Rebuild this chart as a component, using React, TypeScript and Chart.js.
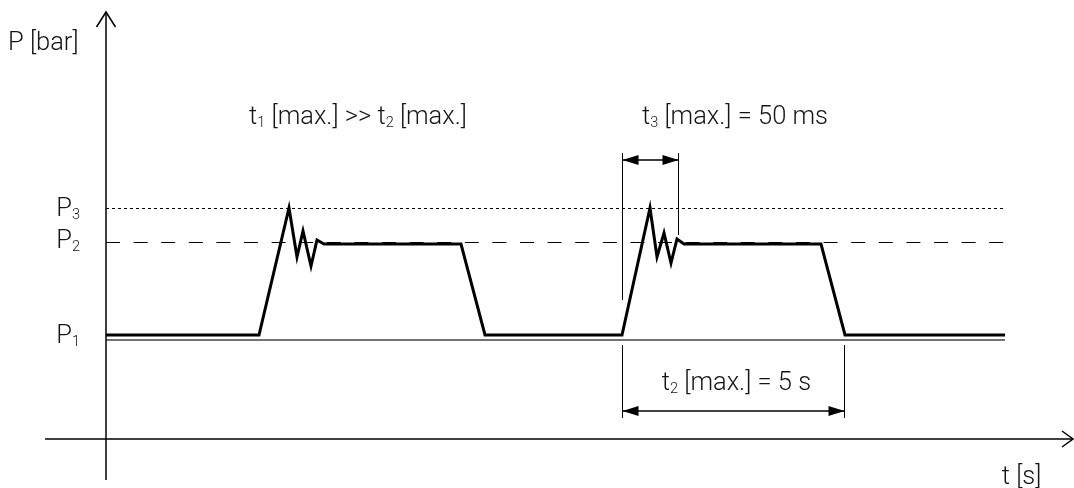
import React, { useEffect, useRef } from "react";
import { Chart, registerables } from "chart.js";

Chart.register(...registerables);

// Schematic units: time t (arbitrary), pressure P (arbitrary)
const T_MIN = -10.6;
const T_MAX = 96.8;
const P_MIN = -4.9;
const P_MAX = 43.9;

// Pressure signal (two pulses with overshoot)
const signalT = [0, 15.3, 18.3, 19.1, 19.7, 20.5, 21.1, 21.8, 35.5, 37.9, 51.6, 54.4, 55.1, 55.8, 56.5, 57.1, 57.8, 71.5, 73.9, 89.9];
const signalP = [10.4, 10.4, 23.1, 18.2, 20.8, 17.3, 19.9, 19.5, 19.5, 10.4, 10.4, 23.1, 18.2, 20.6, 17.6, 20.0, 19.5, 19.5, 10.4, 10.4];

// Reference pressure levels
const levelNames = ["P1", "P2", "P3"];
const levelValues = [9.9, 19.65, 23.05];
const levelStart = 0;
const levelEnd = 89.9;

// Axes
const yAxisT = [0, 0];
const yAxisP = [-4.1, 42.7];
const xAxisT = [-6.1, 96.7];
const xAxisP = [0, 0];
const yArrowT = [-0.95, 0, 0.95];
const yArrowP = [41.2, 42.7, 41.2];
const xArrowT = [95.6, 96.7, 95.6];
const xArrowP = [0.8, 0, -0.8];

// Dimension t3 (50 ms)
const t3Ext = [51.65, 57.25];
const t3ExtTop = 28.6;
const t3ExtBottom = [13.9, 20.4];
const t3ArrowP = 27.9;

// Dimension t2 (5 s)
const t2Ext = [51.65, 73.85];
const t2ExtTop = 9.4;
const t2ExtBottom = 2.1;
const t2ArrowP = 2.8;

// Labels: runs of [text, subscript?], anchored at (t, P) on the baseline
type Run = [string, boolean];
const labels: { runs: Run[]; t: number; p: number; align: "left" | "right" | "center" }[] = [
  { runs: [["P [bar]", false]], t: -9.8, p: 38.9, align: "left" },
  { runs: [["t", false], ["1", true], [" [max.] >> t", false], ["2", true], [" [max.]", false]], t: 25.2, p: 31.55, align: "center" },
  { runs: [["t", false], ["3", true], [" [max.] = 50 ms", false]], t: 62.9, p: 31.55, align: "center" },
  { runs: [["t", false], ["2", true], [" [max.] = 5 s", false]], t: 63.05, p: 4.9, align: "center" },
  { runs: [["t [s]", false]], t: 91.55, p: -4.45, align: "center" },
  { runs: [["P", false], ["3", true]], t: -2.6, p: 22.3, align: "right" },
  { runs: [["P", false], ["2", true]], t: -2.6, p: 19.07, align: "right" },
  { runs: [["P", false], ["1", true]], t: -2.6, p: 9.57, align: "right" },
];

const FONT_SIZE = 25.5;
const SUB_SIZE = 14.5;
const FONT_FAMILY = "Roboto";
const TEXT_COLOR = "#151515";

const pts = (ts: number[], ps: number[]) => ts.map((t, i) => ({ x: t, y: ps[i] }));

const line = (data: { x: number; y: number }[], width: number, color = "#000", dash: number[] = []) => ({
  type: "line" as const,
  data,
  borderColor: color,
  borderWidth: width,
  borderDash: dash,
  pointRadius: 0,
  fill: false,
  tension: 0,
  clip: false as any,
  borderJoinStyle: "miter" as const,
  borderCapStyle: "butt" as const,
});

const annotationPlugin = {
  id: "schematicAnnotations",
  afterDatasetsDraw(chart: any) {
    const ctx: CanvasRenderingContext2D = chart.ctx;
    const xs = chart.scales.x;
    const ys = chart.scales.y;
    const X = (v: number) => xs.getPixelForValue(v);
    const Y = (v: number) => ys.getPixelForValue(v);

    // filled arrowheads for dimension arrows
    const head = (tipT: number, p: number, dir: number) => {
      const tx = X(tipT);
      const ty = Y(p);
      const len = 16;
      const hw = 5;
      ctx.beginPath();
      ctx.moveTo(tx, ty);
      ctx.lineTo(tx + dir * len, ty - hw);
      ctx.lineTo(tx + dir * len, ty + hw);
      ctx.closePath();
      ctx.fillStyle = "#000";
      ctx.fill();
    };
    ctx.save();
    head(t3Ext[0], t3ArrowP, 1);
    head(t3Ext[1], t3ArrowP, -1);
    head(t2Ext[0], t2ArrowP, 1);
    head(t2Ext[1], t2ArrowP, -1);

    // labels
    ctx.fillStyle = TEXT_COLOR;
    ctx.textBaseline = "alphabetic";
    ctx.textAlign = "left";
    const mainFont = `300 ${FONT_SIZE}px ${FONT_FAMILY}`;
    const subFont = `300 ${SUB_SIZE}px ${FONT_FAMILY}`;
    for (const lab of labels) {
      let width = 0;
      for (const [txt, sub] of lab.runs) {
        ctx.font = sub ? subFont : mainFont;
        width += ctx.measureText(txt).width;
      }
      let x = X(lab.t);
      if (lab.align === "right") x -= width;
      else if (lab.align === "center") x -= width / 2;
      const y = Y(lab.p);
      for (const [txt, sub] of lab.runs) {
        ctx.font = sub ? subFont : mainFont;
        ctx.fillText(txt, x, sub ? y + 3 : y);
        x += ctx.measureText(txt).width;
      }
    }
    ctx.restore();
  },
};

export default function App() {
  const canvasRef = useRef<HTMLCanvasElement | null>(null);

  useEffect(() => {
    if (!canvasRef.current) return;
    const datasets: any[] = [];

    // axes
    datasets.push(line(pts(yAxisT, yAxisP), 1.5));
    datasets.push(line(pts(xAxisT, xAxisP), 1.5));
    datasets.push(line(pts(yArrowT, yArrowP), 1.5));
    datasets.push(line(pts(xArrowT, xArrowP), 1.5));

    // reference levels
    levelNames.forEach((name, i) => {
      const data = pts([levelStart, levelEnd], [levelValues[i], levelValues[i]]);
      if (name === "P1") datasets.push(line(pts([levelStart, levelEnd], [9.9, 9.9]), 1.5, "#444"));
      else if (name === "P2") datasets.push(line(data, 1, "#000", [14, 13.6]));
      else datasets.push(line(data, 1, "#000", [3, 3]));
    });

    // dimension t3
    t3Ext.forEach((t, i) => datasets.push(line(pts([t, t], [t3ExtTop, t3ExtBottom[i]]), 1)));
    datasets.push(line(pts(t3Ext, [t3ArrowP, t3ArrowP]), 1.5));

    // dimension t2
    t2Ext.forEach((t) => datasets.push(line(pts([t, t], [t2ExtTop, t2ExtBottom]), 1)));
    datasets.push(line(pts(t2Ext, [t2ArrowP, t2ArrowP]), 1.5));

    // signal
    datasets.push(line(pts(signalT, signalP), 3));

    const chart = new Chart(canvasRef.current, {
      type: "line",
      data: { datasets },
      options: {
        animation: false,
        responsive: false,
        layout: { padding: 0 },
        scales: {
          x: { type: "linear", min: T_MIN, max: T_MAX, display: false },
          y: { type: "linear", min: P_MIN, max: P_MAX, display: false },
        },
        plugins: { legend: { display: false }, tooltip: { enabled: false } },
        events: [],
      },
      plugins: [annotationPlugin],
    });
    return () => chart.destroy();
  }, []);

  return (
    <div style={{ position: "absolute", left: 0, top: 0, width: 1074, height: 488, background: "#fff" }}>
      <canvas ref={canvasRef} width={1074} height={488} />
    </div>
  );
}
